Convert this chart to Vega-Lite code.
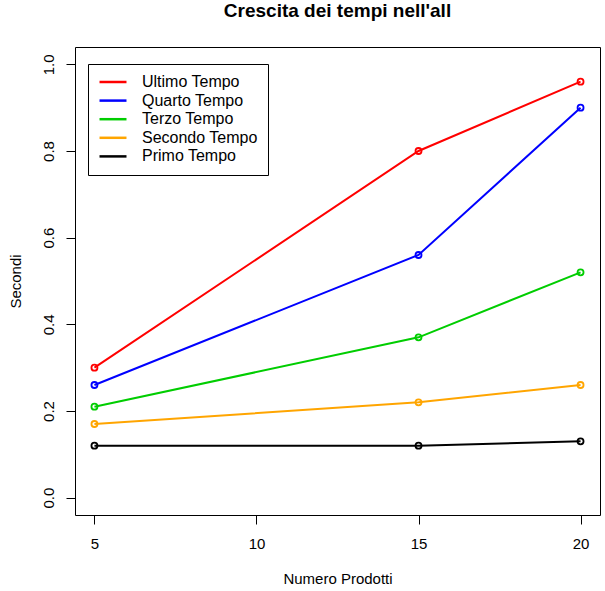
{
  "$schema": "https://vega.github.io/schema/vega-lite/v6.json",
  "autosize": "none",
  "width": 525,
  "height": 468,
  "padding": {"left": 75, "top": 47, "right": 5, "bottom": 76},
  "background": "white",
  "title": {
    "text": "Crescita dei tempi nell'all",
    "font": "Liberation Sans",
    "fontSize": 19,
    "fontWeight": "bold",
    "color": "black",
    "anchor": "middle",
    "offset": 26
  },
  "config": {
    "view": {"stroke": "black", "strokeWidth": 1},
    "font": "Liberation Sans",
    "axis": {
      "grid": false,
      "domain": false,
      "tickColor": "black",
      "tickSize": 9,
      "labelFont": "Liberation Sans",
      "labelFontSize": 15,
      "labelColor": "black",
      "titleFont": "Liberation Sans",
      "titleFontSize": 15,
      "titleFontWeight": "normal",
      "titleColor": "black"
    }
  },
  "data": {
    "values": [
      {"prodotti": 5, "serie": "Ultimo Tempo", "secondi": 0.30},
      {"prodotti": 15, "serie": "Ultimo Tempo", "secondi": 0.80},
      {"prodotti": 20, "serie": "Ultimo Tempo", "secondi": 0.96},
      {"prodotti": 5, "serie": "Quarto Tempo", "secondi": 0.26},
      {"prodotti": 15, "serie": "Quarto Tempo", "secondi": 0.56},
      {"prodotti": 20, "serie": "Quarto Tempo", "secondi": 0.90},
      {"prodotti": 5, "serie": "Terzo Tempo", "secondi": 0.21},
      {"prodotti": 15, "serie": "Terzo Tempo", "secondi": 0.37},
      {"prodotti": 20, "serie": "Terzo Tempo", "secondi": 0.52},
      {"prodotti": 5, "serie": "Secondo Tempo", "secondi": 0.17},
      {"prodotti": 15, "serie": "Secondo Tempo", "secondi": 0.22},
      {"prodotti": 20, "serie": "Secondo Tempo", "secondi": 0.26},
      {"prodotti": 5, "serie": "Primo Tempo", "secondi": 0.12},
      {"prodotti": 15, "serie": "Primo Tempo", "secondi": 0.12},
      {"prodotti": 20, "serie": "Primo Tempo", "secondi": 0.13}
    ]
  },
  "encoding": {
    "x": {
      "field": "prodotti",
      "type": "quantitative",
      "scale": {"domain": [4.4, 20.6], "nice": false, "zero": false},
      "axis": {
        "title": "Numero Prodotti",
        "values": [5, 10, 15, 20],
        "labelPadding": 12,
        "labelBaseline": "top",
        "titlePadding": 20
      }
    },
    "y": {
      "field": "secondi",
      "type": "quantitative",
      "scale": {"domain": [-0.04, 1.04], "nice": false, "zero": false},
      "axis": {
        "title": "Secondi",
        "values": [0, 0.2, 0.4, 0.6, 0.8, 1.0],
        "format": ".1f",
        "labelAngle": 270,
        "labelAlign": "center",
        "labelBaseline": "bottom",
        "labelPadding": 10,
        "titlePadding": 18
      }
    },
    "color": {
      "field": "serie",
      "type": "nominal",
      "scale": {
        "domain": ["Ultimo Tempo", "Quarto Tempo", "Terzo Tempo", "Secondo Tempo", "Primo Tempo"],
        "range": ["#FF0000", "#0000FF", "#00CD00", "#FFA500", "#000000"]
      },
      "legend": {
        "title": null,
        "orient": "none",
        "legendX": 13,
        "legendY": 17,
        "symbolType": "M-2,0H2",
        "symbolSize": 182,
        "symbolStrokeWidth": 2.5,
        "symbolOffset": 7,
        "labelFont": "Liberation Sans",
        "labelFontSize": 16,
        "labelColor": "black",
        "labelOffset": 21,
        "rowPadding": 2.6,
        "padding": 10,
        "strokeColor": "black",
        "fillColor": "white",
        "cornerRadius": 0
      }
    }
  },
  "layer": [
    {"mark": {"type": "line", "strokeWidth": 2}},
    {"mark": {"type": "point", "filled": false, "size": 36, "strokeWidth": 1.8, "opacity": 1}}
  ]
}
